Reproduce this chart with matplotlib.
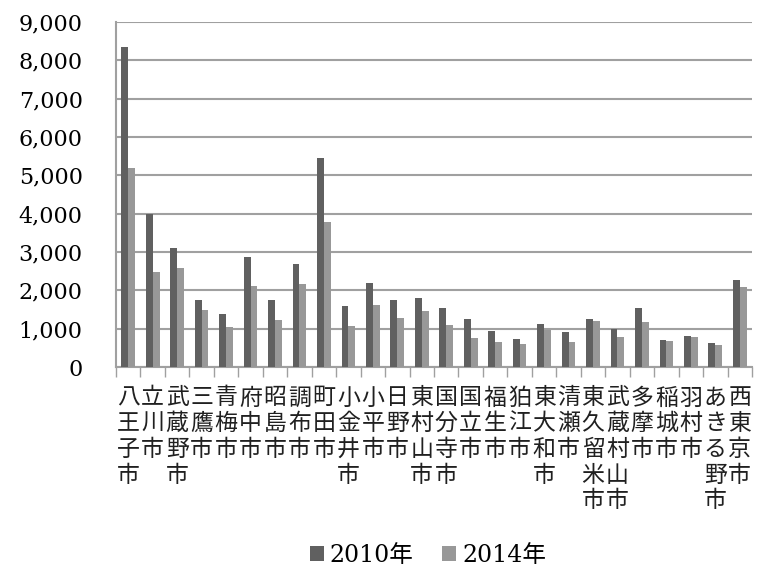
import matplotlib.pyplot as plt
import numpy as np
from matplotlib.ticker import FuncFormatter

cities = ['八王子市', '立川市', '武蔵野市', '三鷹市', '青梅市', '府中市', '昭島市',
          '調布市', '町田市', '小金井市', '小平市', '日野市', '東村山市', '国分寺市',
          '国立市', '福生市', '狛江市', '東大和市', '清瀬市', '東久留米市',
          '武蔵村山市', '多摩市', '稲城市', '羽村市', 'あきる野市', '西東京市']
v2010 = [8350, 4000, 3100, 1760, 1370, 2870, 1740, 2700, 5440, 1590, 2190, 1750,
         1800, 1540, 1250, 940, 730, 1130, 910, 1250, 1000, 1540, 700, 820, 620, 2270]
v2014 = [5180, 2490, 2590, 1490, 1050, 2120, 1220, 2160, 3780, 1070, 1610, 1270,
         1450, 1100, 750, 660, 590, 960, 660, 1200, 790, 1180, 670, 770, 580, 2080]

serif = ['DejaVu Serif', 'Noto Sans CJK JP']
cjk = ['Noto Sans CJK JP', 'DejaVu Sans']

fig = plt.figure(figsize=(7.58, 5.68), dpi=100)
ax = fig.add_axes([116 / 758, 1 - 367 / 568, 636 / 758, 345 / 568])

x = np.arange(len(cities))
w = 0.28
ax.bar(x - w / 2, v2010, w, color='#606060', label='2010年', zorder=3)
ax.bar(x + w / 2, v2014, w, color='#989898', label='2014年', zorder=3)

ax.set_ylim(0, 9000)
ax.set_xlim(-0.5, len(cities) - 0.5)
ax.set_yticks(range(0, 9001, 1000))
ax.yaxis.set_major_formatter(FuncFormatter(lambda v, p: f'{int(v):,}'))
ax.yaxis.grid(True, color='#a0a0a0', linewidth=1.5, zorder=0)
ax.tick_params(axis='y', length=0, pad=24)
for t in ax.get_yticklabels():
    t.set_fontfamily(serif)
    t.set_fontsize(16)

ax.set_xticks(np.arange(-0.5, len(cities), 1))
ax.set_xticklabels([])
ax.tick_params(axis='x', direction='out', length=7, color='#a0a0a0', width=1)
# one character per line, stacked under each category
for i, c in enumerate(cities):
    for j, ch in enumerate(c):
        ax.annotate(ch, xy=(i, 0), xycoords=('data', 'axes fraction'),
                    xytext=(0, -31 - 25.7 * j), textcoords='offset pixels',
                    ha='center', va='center', fontsize=16.5, family=cjk,
                    color='#202020')

for s in ['top', 'right']:
    ax.spines[s].set_visible(False)
ax.spines['left'].set_color('#a0a0a0')
ax.spines['left'].set_linewidth(1.5)
ax.spines['bottom'].set_color('#a0a0a0')
ax.spines['bottom'].set_linewidth(1.5)

leg = fig.legend(loc='center', bbox_to_anchor=(428 / 758, 1 - 555 / 568), ncol=2,
                 frameon=False, handlelength=0.6, handleheight=0.6,
                 handletextpad=0.25, columnspacing=1.2,
                 prop={'family': serif, 'size': 17})

fig.savefig('out.png', dpi=100)
